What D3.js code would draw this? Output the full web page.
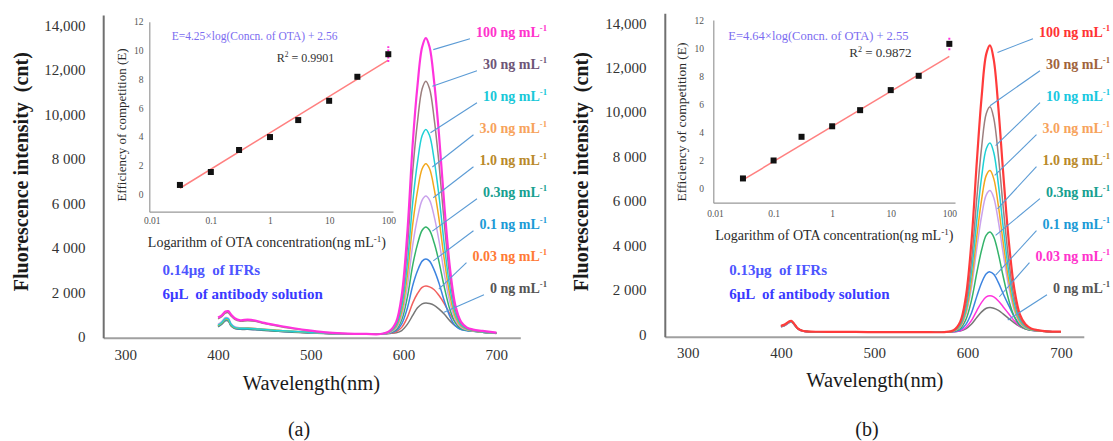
<!DOCTYPE html>
<html><head><meta charset="utf-8">
<script src="https://cdn.jsdelivr.net/npm/d3@7"></script>
<style>
body{margin:0;background:#fff}
svg{display:block}
text{font-family:"Liberation Serif","Times New Roman",serif}
</style>
</head><body>
<svg id="c" width="1113" height="441"></svg>
<script>
// ---------------- DATA ----------------
const wavelengths = [400,404,408,411,414,418,424,432,440,450,465,480,500,520,540,560,575,585,592,598,604,610,615,620,624,628,633,638,644,650,656,662,668,675,685,700];

const wlTicks = [300,400,500,600,700];
const wlTickLabels = ["300","400","500","600","700"];
const intensityTicks = [0,2000,4000,6000,8000,10000,12000,14000];
const intensityTickLabels = ["0","2 000","4 000","6 000","8 000","10,000","12,000","14,000"];

const concLabels = ["100 ng mL","30 ng mL","10 ng mL","3.0 ng mL","1.0 ng mL","0.3ng mL","0.1 ng mL","0.03 ng mL","0 ng mL"];

// panel (a) spectra, one per concentration (cnt)
const specA100 = [860,960,1130,1150,1000,830,740,770,730,620,500,390,270,180,140,125,120,263,667,1868,4659,8779,11304,13031,13430,13031,11437,9182,5865,3084,1376,665,419,320,260,180];
const specA30  = [800,900,1060,1080,930,780,700,720,690,590,470,370,260,175,135,120,120,244,589,1616,3999,7518,9674,11150,11490,11150,9788,7863,5031,2657,1202,597,390,287,230,170];
const specA10  = [520,640,820,800,560,420,380,380,360,320,280,240,190,150,125,115,120,222,502,1333,3261,6107,7851,9045,9320,9045,7943,6387,4097,2180,1006,521,358,276,210,160];
const specA3   = [500,620,790,770,540,410,380,390,370,330,285,245,195,150,125,115,120,206,441,1133,2738,5106,6558,7551,7780,7551,6634,5340,3435,1841,868,467,335,268,210,160];
const specA1   = [560,680,860,840,600,450,400,390,370,330,280,240,190,150,125,115,120,192,383,945,2245,4164,5340,6144,6330,6144,5402,4354,2812,1522,737,417,313,261,210,160];
const specA03  = [480,600,770,750,520,400,360,360,340,300,260,220,180,145,122,112,118,178,327,763,1769,3254,4164,4786,4930,4786,4212,3402,2210,1214,611,368,292,254,205,155];
const specA01  = [460,580,740,720,500,380,340,340,320,290,250,215,175,140,120,110,116,164,269,577,1282,2324,2962,3399,3500,3399,2996,2430,1595,899,482,318,270,247,200,150];
const specA003 = [500,620,800,780,550,420,370,370,350,310,265,225,180,145,122,112,116,151,221,419,869,1534,1942,2221,2285,2242,2113,1861,1480,1018,652,415,327,273,200,150];
const specA0   = [440,560,720,700,480,370,330,330,310,280,240,205,170,138,118,108,114,144,176,278,554,968,1299,1479,1520,1492,1410,1249,1006,712,484,338,289,258,195,145];

// panel (b) spectra
const specB100 = [380,440,560,610,480,270,150,120,115,110,108,105,100,98,96,96,100,182,557,1658,4109,7850,10688,12623,13010,12365,10172,7334,4243,2055,899,453,264,187,130,120];
const specB30  = [360,420,540,590,470,260,145,118,112,108,106,103,99,97,95,95,100,166,460,1326,3250,6188,8417,9936,10240,9734,8011,5783,3357,1640,733,383,236,176,130,120];
const specB10  = [350,410,530,580,460,255,142,116,110,106,104,102,98,96,94,94,100,156,403,1130,2745,5210,7080,8355,8610,8185,6740,4870,2835,1395,635,343,220,169,130,120];
const specB3   = [355,415,535,585,465,258,144,117,111,107,105,102,98,96,94,94,100,149,359,981,2361,4466,6063,7152,7370,7007,5773,4176,2438,1209,561,312,208,164,130,120];
const specB1   = [350,410,525,575,458,252,140,115,110,106,104,101,97,95,94,94,100,143,328,873,2082,3926,5325,6279,6470,6152,5071,3672,2150,1074,507,289,199,160,130,120];
const specB03  = [370,430,550,600,475,265,148,119,113,109,107,104,99,97,95,95,100,132,262,649,1502,2804,3792,4465,4600,4376,3612,2624,1552,794,394,242,180,153,130,120];
const specB01  = [345,405,520,570,455,250,140,114,109,105,103,100,97,95,93,93,100,121,200,434,947,1730,2324,2729,2810,2702,2324,1838,1303,795,449,265,189,157,130,120];
const specB003 = [340,400,515,565,450,248,138,113,108,104,102,100,96,94,93,93,100,115,162,304,612,1082,1438,1681,1730,1681,1503,1244,925,606,368,243,184,151,130,120];
const specB0   = [335,395,510,560,445,245,136,112,107,103,101,99,95,93,92,92,100,112,143,241,449,767,1008,1172,1205,1172,1074,920,717,514,344,240,190,157,130,120];

// leader-line targets on the curves [wavelength, intensity]
const leaderA = [[632,12910],[631,11260],[629,9170],[631,7630],[632,6250],[631,4750],[632,3410],[638,2140],[643,1090]];
const leaderB = [[632,12690],[624,10290],[630,8490],[629,7150],[632,5650],[630,4450],[630,2660],[634,1690],[643,640]];

// inset calibration data
const otaConc = [0.03,0.1,0.3,1,3,10,30,100];
const effA = [0.65,1.55,3.08,3.98,5.16,6.5,8.17,9.74];
const effB = [0.7,1.98,3.67,4.42,5.57,7.0,8.02,10.3];
const fitA = [[0.03,0.42],[100,9.33]];
const fitB = [[0.03,0.6],[100,9.4]];
const errA = 0.55, errB = 0.45;
const effTicks = [0,2,4,6,8,10,12];
const concTicks = [0.01,0.1,1,10,100];
const concTickLabels = ["0.01","0.1","1","10","100"];

const eqA = "E=4.25×log(Concn. of OTA) + 2.56", r2A = "0.9901";
const eqB = "E=4.64×log(Concn. of OTA) + 2.55", r2B = "0.9872";
const noteA = ["0.14μg  of IFRs","6μL  of antibody solution"];
const noteB = ["0.13μg  of IFRs","6μL  of antibody solution"];

// ---------------- STYLE / LAYOUT ----------------
const curveColA = ["#ff33dd","#9c7f7f","#1fd1d6","#f2a81d","#c9a2ec","#34b36a","#3d84e0","#f2605f","#777777"];
const curveColB = ["#ff3b3b","#9c7f7f","#1fd1d6","#f2a81d","#c9a2ec","#34b36a","#3d84e0","#ff33dd","#777777"];
const labColA = ["#ff33cc","#6e5577","#19c8d8","#f7a35c","#b9892a","#17a090","#1c9ad6","#ff7a35","#555555"];
const labColB = ["#ff3333","#a0633c","#19c8e0","#f7a35c","#b9892a","#17a090","#1c9ad6","#ff33cc","#555555"];

const panels = [
  {spectra:[specA100,specA30,specA10,specA3,specA1,specA03,specA01,specA003,specA0],
   curveCol:curveColA, labCol:labColA, leader:leaderA,
   xDom:[276.2,725.8], xRng:[103.2,520.3], yDom:[-45,14468], yRng:[337.7,15],
   labelRight:547, labelTop:31.7, labelStep:32.0,
   eff:effA, fit:fitA, err:errA, eq:eqA, r2:r2A, note:noteA,
   iX:[0.00911,120.1], iXR:[149.3,393], iY:[-1.21,12], iYR:[211.7,21.7],
   iYPad:5.8, iXPad:5.6, eqX:171.7, eqY:40, eqFs:11.5, r2X:276.7, r2Y:61.5, r2Fs:12,
   iXLab:[266.9,246.5], iYLab:[125.5,125], iYLabFs:13,
   yTitleX:28.4, xTitleX:311.4, xTitleY:390, capX:299, cap:"(a)", noteX:162.5, yTickPad:17.8, xTickPad:11.7},
  {spectra:[specB100,specB30,specB10,specB3,specB1,specB03,specB01,specB003,specB0],
   curveCol:curveColB, labCol:labColB, leader:leaderB,
   xDom:[275.5,724.5], xRng:[664.8,1083.8], yDom:[-108,14450], yRng:[336.7,13.3],
   labelRight:1110, labelTop:31.7, labelStep:32.0,
   eff:effB, fit:fitB, err:errB, eq:eqB, r2:r2B, note:noteB,
   iX:[0.00935,125], iXR:[713.3,955], iY:[-1.03,12], iYR:[202.7,20],
   iYPad:9.3, iXPad:7.2, eqX:728.3, eqY:39.5, eqFs:12.5, r2X:849.3, r2Y:57, r2Fs:13,
   iXLab:[834.3,240], iYLab:[686,122], iYLabFs:13.5,
   yTitleX:588.2, xTitleX:874.8, xTitleY:387, capX:866.9, cap:"(b)", noteX:729.3, yTickPad:18.4, xTickPad:11}
];

const svg = d3.select("#c");

function addSup(sel, main, sup, fs) {
  sel.append("tspan").text(main);
  sel.append("tspan").attr("dy", -fs*0.38).attr("font-size", fs*0.62).text(sup);
}

panels.forEach(p => {
  const g = svg.append("g");
  const x = d3.scaleLinear().domain(p.xDom).range(p.xRng);
  const y = d3.scaleLinear().domain(p.yDom).range(p.yRng);

  // main axes
  const xAx = g.append("g").attr("transform", `translate(0,${p.yRng[0]})`)
    .call(d3.axisBottom(x).tickValues(wlTicks).tickFormat((d,i)=>wlTickLabels[i]).tickSize(0).tickSizeOuter(0).tickPadding(p.xTickPad));
  xAx.select(".domain").attr("stroke","#a0a0a0").attr("stroke-width",2);
  xAx.selectAll("text").attr("font-size",15).attr("fill","#333").attr("font-family","Liberation Serif, serif");

  const yAx = g.append("g").attr("transform", `translate(${p.xRng[0]},0)`)
    .call(d3.axisLeft(y).tickValues(intensityTicks).tickFormat((d,i)=>intensityTickLabels[i]).tickSize(0).tickSizeOuter(0).tickPadding(p.yTickPad));
  yAx.select(".domain").attr("stroke","#707070").attr("stroke-width",2);
  yAx.selectAll("text").attr("font-size",15).attr("fill","#333").attr("font-family","Liberation Serif, serif");

  // spectra (lowest first)
  const line = d3.line().x((d,i)=>x(wavelengths[i])).y(d=>y(d)).curve(d3.curveCatmullRom.alpha(0.5));
  for (let k = p.spectra.length-1; k >= 0; k--) {
    g.append("path").attr("d", line(p.spectra[k])).attr("fill","none")
      .attr("stroke", p.curveCol[k]).attr("stroke-width", k===0 ? 2.2 : 1.5).attr("stroke-linejoin","round");
  }

  // concentration labels + leaders
  concLabels.forEach((lab,i) => {
    const cy = p.labelTop + i*p.labelStep;
    const t = g.append("text").attr("x", p.labelRight).attr("y", cy+5).attr("text-anchor","end")
      .attr("font-size",14).attr("font-weight","bold").attr("fill", p.labCol[i]);
    addSup(t, lab, "-1", 14);
    const bb = t.node().getBBox();
    const tg = p.leader[i];
    g.append("line").attr("x1", bb.x-6).attr("y1", cy+7).attr("x2", x(tg[0])).attr("y2", y(tg[1]))
      .attr("stroke","#5b9bd5").attr("stroke-width",1.1);
  });

  // titles
  g.append("text").attr("transform", `translate(${p.yTitleX},171.7) rotate(-90)`).attr("text-anchor","middle")
    .attr("font-size",20).attr("font-weight","bold").attr("fill","#1a1a1a")
    .style("white-space","pre").text("Fluorescence intensity  (cnt)");
  g.append("text").attr("x", p.xTitleX).attr("y", p.xTitleY).attr("text-anchor","middle")
    .attr("font-size",20.5).attr("fill","#1a1a1a").text("Wavelength(nm)");
  g.append("text").attr("x", p.capX).attr("y", 436).attr("text-anchor","middle")
    .attr("font-size",20).attr("fill","#1a1a1a").text(p.cap);

  // notes
  g.append("text").attr("x", p.noteX).attr("y", 275).attr("font-size",15).attr("font-weight","bold").attr("fill","#4d55ff")
    .style("white-space","pre").text(p.note[0]);
  g.append("text").attr("x", p.noteX).attr("y", 298.5).attr("font-size",15).attr("font-weight","bold").attr("fill","#3a3aff")
    .style("white-space","pre").text(p.note[1]);

  // inset
  const ix = d3.scaleLog().domain(p.iX).range(p.iXR);
  const iy = d3.scaleLinear().domain(p.iY).range(p.iYR);
  const ixAx = g.append("g").attr("transform", `translate(0,${p.iYR[0]})`)
    .call(d3.axisBottom(ix).tickValues(concTicks).tickFormat((d,i)=>concTickLabels[i]).tickSize(0).tickSizeOuter(0).tickPadding(p.iXPad));
  ixAx.select(".domain").attr("stroke","#999").attr("stroke-width",1.2);
  ixAx.selectAll("text").attr("font-size",9.5).attr("fill","#555").attr("font-family","Liberation Serif, serif");
  const iyAx = g.append("g").attr("transform", `translate(${p.iXR[0]},0)`)
    .call(d3.axisLeft(iy).tickValues(effTicks).tickSize(0).tickSizeOuter(0).tickPadding(p.iYPad));
  iyAx.select(".domain").attr("stroke","#999").attr("stroke-width",1.2);
  iyAx.selectAll("text").attr("font-size",9.5).attr("fill","#555").attr("font-family","Liberation Serif, serif");

  g.append("line").attr("x1", ix(p.fit[0][0])).attr("y1", iy(p.fit[0][1]))
    .attr("x2", ix(p.fit[1][0])).attr("y2", iy(p.fit[1][1]))
    .attr("stroke","#ff8080").attr("stroke-width",1.5);
  const last = p.eff.length-1;
  g.append("line").attr("x1", ix(otaConc[last])).attr("x2", ix(otaConc[last]))
    .attr("y1", iy(p.eff[last]-p.err)).attr("y2", iy(p.eff[last]+p.err))
    .attr("stroke","#ff33dd").attr("stroke-width",2).attr("stroke-dasharray","2,1.5");
  g.selectAll(null).data(p.eff).enter().append("rect")
    .attr("x",(d,i)=>ix(otaConc[i])-3).attr("y",d=>iy(d)-3).attr("width",6).attr("height",6).attr("fill","#111");

  g.append("text").attr("x", p.eqX).attr("y", p.eqY).attr("font-size", p.eqFs).attr("fill","#7b6cf0").text(p.eq);
  const r = g.append("text").attr("x", p.r2X).attr("y", p.r2Y).attr("font-size", p.r2Fs).attr("fill","#333");
  r.append("tspan").text("R");
  r.append("tspan").attr("dy",-p.r2Fs*0.38).attr("font-size",p.r2Fs*0.62).text("2");
  r.append("tspan").attr("dy",p.r2Fs*0.38).text(" = " + p.r2);

  const xl = g.append("text").attr("x", p.iXLab[0]).attr("y", p.iXLab[1]).attr("text-anchor","middle")
    .attr("font-size",14).attr("fill","#2a2a2a");
  xl.append("tspan").text("Logarithm of OTA concentration(ng mL");
  xl.append("tspan").attr("dy",-5).attr("font-size",9).text("-1");
  xl.append("tspan").attr("dy",5).text(")");
  g.append("text").attr("transform", `translate(${p.iYLab[0]},${p.iYLab[1]}) rotate(-90)`).attr("text-anchor","middle")
    .attr("font-size", p.iYLabFs).attr("fill","#2a2a2a").text("Efficiency of competition (E)");
});
</script>
</body></html>
